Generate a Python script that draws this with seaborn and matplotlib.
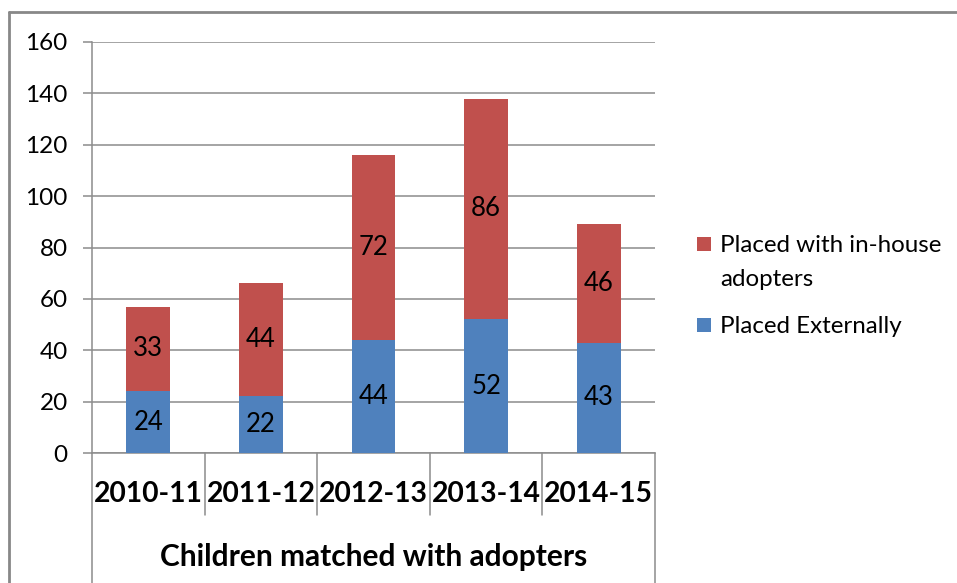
import matplotlib
matplotlib.use("Agg")
import matplotlib.pyplot as plt
import matplotlib.transforms as mtransforms
from matplotlib.patches import Rectangle
from matplotlib.lines import Line2D
import seaborn as sns
import pandas as pd

# Data
years = ["2010-11", "2011-12", "2012-13", "2013-14", "2014-15"]
placed_external = [24, 22, 44, 52, 43]
placed_in_house = [33, 44, 72, 86, 46]
y_ticks = [0, 20, 40, 60, 80, 100, 120, 140, 160]
axis_title = "Children matched with adopters"
legend_labels = ["Placed with in-house\nadopters", "Placed Externally"]

BLUE = "#4F81BD"
RED = "#C0504D"
GRID = "#8C8C8C"
FONT = "Lato"

sns.set_theme(style="white")
plt.rcParams["font.family"] = [FONT, "DejaVu Sans"]

W, H = 957, 583
fig = plt.figure(figsize=(W / 100, H / 100), dpi=100)

# plot area in pixels
left_px, right_px, top_px, bottom_px = 92, 655, 42, 453
ax = fig.add_axes([left_px / W, 1 - bottom_px / H,
                   (right_px - left_px) / W, (bottom_px - top_px) / H])

df = pd.DataFrame({
    "year": years,
    "external": placed_external,
    "in_house": placed_in_house,
})
df["total"] = df["external"] + df["in_house"]

ax.set_axisbelow(True)
for y in y_ticks:
    ax.axhline(y, color=GRID, lw=1.1, zorder=0)

# stacked bars: total (red) behind, external (blue) in front
sns.barplot(data=df, x="year", y="total", color=RED, width=0.39,
            saturation=1, ax=ax, zorder=2, linewidth=0)
sns.barplot(data=df, x="year", y="external", color=BLUE, width=0.39,
            saturation=1, ax=ax, zorder=3, linewidth=0)

# value labels centred in each segment
LABEL_SIZE = 18.5
for i, row in df.iterrows():
    ax.text(i, row["external"] / 2, f"{row['external']}", ha="center",
            va="center", fontsize=LABEL_SIZE, color="black", zorder=5)
    ax.text(i, row["external"] + row["in_house"] / 2, f"{row['in_house']}",
            ha="center", va="center", fontsize=LABEL_SIZE, color="black",
            zorder=5)

ax.set_xlim(-0.5, len(years) - 0.5)
ax.set_ylim(0, 160)
ax.set_yticks(y_ticks)
ax.set_yticklabels([str(v) for v in y_ticks], fontsize=17.5)
ax.tick_params(axis="y", length=6.5, width=1.1, color=GRID, pad=11,
               left=True, labelcolor="black")
ax.set_xticks([])
ax.set_xlabel("")
ax.set_ylabel("")

for s in ["top", "right"]:
    ax.spines[s].set_visible(False)
for s in ["left", "bottom"]:
    ax.spines[s].set_color(GRID)
    ax.spines[s].set_linewidth(1.1)

# category labels and grouped axis title below the plot
trans = mtransforms.blended_transform_factory(ax.transData, ax.transAxes)
plot_h = bottom_px - top_px
for i, yr in enumerate(years):
    ax.text(i, -(494 - bottom_px) / plot_h, yr, transform=trans, ha="center",
            va="center", fontsize=20.3, fontweight="bold", color="black")
ax.text(0.5, -(557 - bottom_px) / plot_h, axis_title, transform=ax.transAxes,
        ha="center", va="center", fontsize=21.5, fontweight="bold",
        color="black")

# category divider lines
inner_bottom = -(515 - bottom_px) / plot_h
outer_bottom = -(H - bottom_px) / plot_h
for k in range(len(years) + 1):
    xb = k - 0.5
    yb = outer_bottom if k in (0, len(years)) else inner_bottom
    ax.add_line(Line2D([xb, xb], [0, yb], transform=trans, color=GRID,
                       lw=1.1, clip_on=False))

# chart area border (left and top)
fig.add_artist(Line2D([9 / W, 9 / W], [1 - 12 / H, 0], color="#888888",
                      lw=2.0, transform=fig.transFigure))
fig.add_artist(Line2D([9 / W, 1], [1 - 12 / H, 1 - 12 / H], color="#888888",
                      lw=2.0, transform=fig.transFigure))

# legend
sq = 14
for color, label, cy in [(RED, legend_labels[0], 244), (BLUE, legend_labels[1], 325)]:
    fig.add_artist(Rectangle(((697) / W, 1 - (cy + sq / 2) / H), sq / W, sq / H,
                             transform=fig.transFigure, facecolor=color,
                             edgecolor="none"))
    fig.text(720 / W, 1 - (cy - 9) / H, label, ha="left", va="top",
             fontsize=17.4, color="black", linespacing=1.75)

fig.savefig("out.png", dpi=100, facecolor="white")
